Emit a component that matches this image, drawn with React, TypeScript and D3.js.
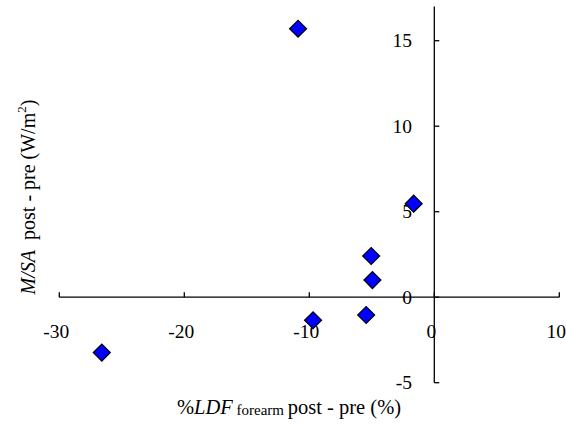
import React from "react";
import * as d3 from "d3";

// data
const ldfChange = [-10.9, -1.65, -5.05, -4.95, -5.45, -9.7, -26.6];
const msaChange = [15.7, 5.47, 2.41, 1.0, -1.04, -1.35, -3.24];
const xTicks = [-30, -20, -10, 0, 10];
const yTicks = [-5, 0, 5, 10, 15];

const width = 566;
const height = 427;
const font = "'Liberation Serif', 'Times New Roman', serif";

const App = () => {
	const x = d3.scaleLinear().domain([-30, 10]).range([59.3, 559.3]);
	const y = d3.scaleLinear().domain([-5, 17]).range([382.7, 6.5]);

	const diamond = d3.symbol().type(d3.symbolSquare).size(144)();
	const x0 = x(0);
	const y0 = y(0);

	return (
		<>
			<style>{"body{margin:0}"}</style>
			<svg width={width} height={height} style={{ display: "block", background: "#fff" }}>
				<g fill="none" stroke="#000" strokeWidth={1.3}>
					{/* x axis */}
					<line x1={x(-30)} x2={x(10)} y1={y0} y2={y0} />
					{xTicks.map((t) => (
						<line key={"xt" + t} x1={x(t)} x2={x(t)} y1={y0} y2={y0 - 5} />
					))}
					{/* y axis */}
					<line x1={x0} x2={x0} y1={y(-5)} y2={y(17)} />
					{yTicks.map((t) => (
						<line key={"yt" + t} x1={x0} x2={x0 + 5} y1={y(t)} y2={y(t)} />
					))}
				</g>

				<g fontFamily={font} fontSize={19.5} fill="#000">
					{xTicks.map((t) => (
						<text key={"xl" + t} x={x(t) - 3} y={338} textAnchor="middle">
							{t}
						</text>
					))}
					{yTicks.map((t) => (
						<text key={"yl" + t} x={412} y={y(t) + 6.5} textAnchor="end">
							{t}
						</text>
					))}
				</g>

				{ldfChange.map((v, i) => (
					<path
						key={i}
						d={diamond}
						transform={`translate(${x(v)},${y(msaChange[i])}) rotate(45)`}
						fill="#0000ff"
						stroke="#000"
						strokeWidth={1.2}
					/>
				))}

				{/* axis titles */}
				<text x={289} y={414} textAnchor="middle" fontFamily={font} fontSize={20.5}>
					<tspan>%</tspan>
					<tspan fontStyle="italic">LDF</tspan>
					<tspan fontSize={15} dy={1}> forearm </tspan>
					<tspan dy={-1}>post - pre (%)</tspan>
				</text>
				<text
					transform="translate(35,197) rotate(-90)"
					textAnchor="middle"
					fontFamily={font}
					fontSize={20}
				>
					<tspan fontStyle="italic">M/SA</tspan>
					<tspan>{"\u00a0 post - pre (W/m"}</tspan>
					<tspan fontSize={13} dy={-9}>2</tspan>
					<tspan dy={9}>)</tspan>
				</text>
			</svg>
		</>
	);
};

export default App;
